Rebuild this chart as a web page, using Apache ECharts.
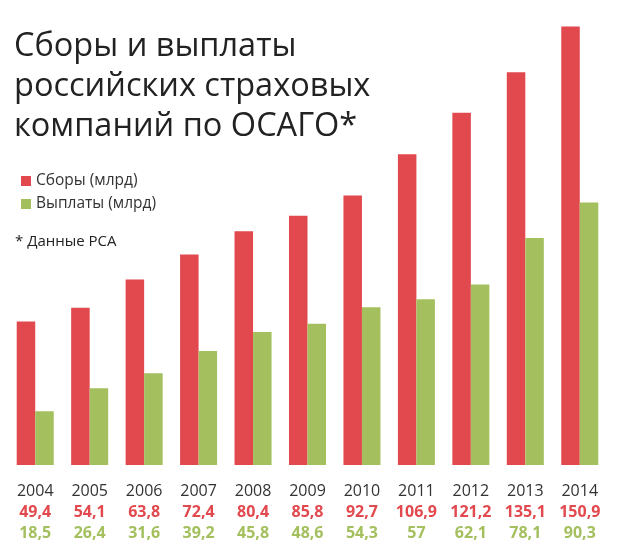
<!DOCTYPE html>
<html>
<head>
<meta charset="utf-8">
<script src="https://cdn.jsdelivr.net/npm/echarts@6/dist/echarts.min.js"></script>
<style>
  html, body { margin: 0; padding: 0; background: #fff; }
  #chart { width: 618px; height: 557px; }
</style>
</head>
<body>
<div id="chart"></div>
<script>
// данные РСА, млрд руб.
var years = ['2004', '2005', '2006', '2007', '2008', '2009', '2010', '2011', '2012', '2013', '2014']
var sbory = [49.4, 54.1, 63.8, 72.4, 80.4, 85.8, 92.7, 106.9, 121.2, 135.1, 150.9]
var vyplaty = [18.5, 26.4, 31.6, 39.2, 45.8, 48.6, 54.3, 57, 62.1, 78.1, 90.3]

var RED = '#e2494e'
var GREEN = '#a4c05e'

function fmt(v) {
  return String(v).replace('.', ',')
}

var chart = echarts.init(document.getElementById('chart'))

chart.setOption({
  animation: false,
  textStyle: { fontFamily: 'Open Sans' },
  title: [
    {
      text: 'Сборы и выплаты\nроссийских страховых\nкомпаний по ОСАГО*',
      left: 9,
      top: 22,
      textStyle: {
        fontFamily: 'Open Sans',
        fontSize: 32.5,
        fontWeight: 'normal',
        lineHeight: 40,
        color: '#222'
      }
    },
    {
      text: '* Данные РСА',
      left: 10,
      top: 229,
      textStyle: {
        fontFamily: 'Open Sans',
        fontSize: 15,
        fontWeight: 'normal',
        color: '#222'
      }
    }
  ],
  legend: {
    orient: 'vertical',
    left: 16,
    top: 168,
    icon: 'rect',
    itemWidth: 10,
    itemHeight: 10,
    itemGap: 7,
    textStyle: { fontSize: 15.5, color: '#333', fontFamily: 'Open Sans' },
    data: ['Сборы (млрд)', 'Выплаты (млрд)']
  },
  grid: {
    left: 8,
    right: 11,
    top: 0,
    bottom: 92,
    containLabel: false
  },
  xAxis: {
    type: 'category',
    data: years,
    axisLine: { show: false },
    axisTick: { show: false },
    axisLabel: {
      interval: 0,
      margin: 16,
      formatter: function (val, idx) {
        return '{y|' + val + '}\n{r|' + fmt(sbory[idx]) + '}\n{g|' + fmt(vyplaty[idx]) + '}'
      },
      rich: {
        y: { fontSize: 16, color: '#333', lineHeight: 21, fontFamily: 'Open Sans' },
        r: { fontSize: 16, color: RED, fontWeight: 'bold', lineHeight: 21, fontFamily: 'Open Sans' },
        g: { fontSize: 16, color: GREEN, fontWeight: 'bold', lineHeight: 21, fontFamily: 'Open Sans' }
      }
    }
  },
  yAxis: {
    type: 'value',
    min: 0,
    max: 160,
    show: false,
    splitLine: { show: false }
  },
  series: [
    {
      name: 'Сборы (млрд)',
      type: 'bar',
      data: sbory,
      barGap: '0%',
      barCategoryGap: '32%',
      itemStyle: { color: RED }
    },
    {
      name: 'Выплаты (млрд)',
      type: 'bar',
      data: vyplaty,
      itemStyle: { color: GREEN }
    }
  ]
})
</script>
</body>
</html>
